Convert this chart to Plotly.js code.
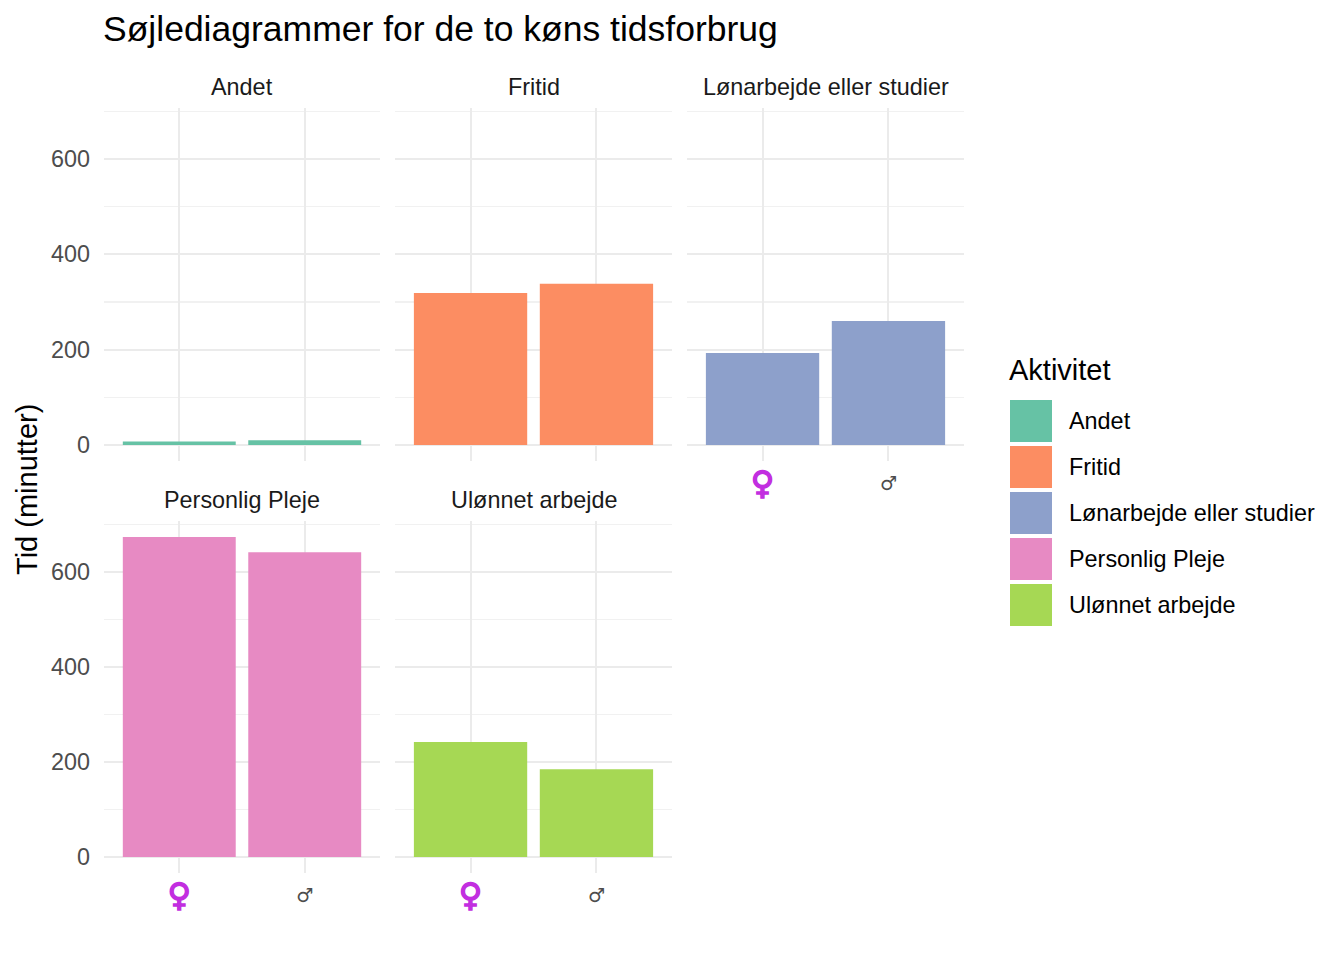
<!DOCTYPE html>
<html>
<head>
<meta charset="utf-8">
<script src="https://cdn.plot.ly/plotly-3.0.1.min.js"></script>
<style>html,body{margin:0;padding:0;background:#fff}#chart{width:1344px;height:960px}</style>
</head>
<body>
<div id="chart"></div>
<script>
// ---- data ----
const activities = ["Andet", "Fritid", "Lønarbejde eller studier", "Personlig Pleje", "Ulønnet arbejde"];
const genders = ["♀", "♂"];
const femaleMinutes = [7, 319, 193, 674, 242];
const maleMinutes = [10, 338, 260, 642, 185];
const colors = ["#66C2A5", "#FC8D62", "#8DA0CB", "#E78AC3", "#A6D854"];
const yTicks = [0, 200, 400, 600];
const chartTitle = "Søjlediagrammer for de to køns tidsforbrug";
const yTitle = "Tid (minutter)";
const legendTitle = "Aktivitet";

// ---- layout geometry (pixels) ----
const W = 1344, H = 960;
const cols = [[104, 380], [395, 672], [687, 964]];
const rows = [[107.6, 461], [521, 873]];
const px = v => v / W;
const py = v => 1 - v / H;
const FONT = "Liberation Sans, Arial, sans-serif";
const SMALL = 23.4;

const tickText = [
  '<span style="color:#c22ee0;font-size:32px;font-family:DejaVu Sans;font-weight:bold;stroke:#c22ee0;stroke-width:1.5px;baseline-shift:-4px">♀</span>',
  '<span style="color:#4d4d4d;font-size:19px;font-family:DejaVu Sans">♂</span>'
];

const traces = [];
const layout = {
  width: W, height: H,
  margin: {l: 0, r: 0, t: 0, b: 0},
  paper_bgcolor: "#fff", plot_bgcolor: "#fff",
  font: {family: FONT, color: "#1a1a1a"},
  showlegend: false,
  bargap: 0.1,
  title: {text: chartTitle, x: px(103), xanchor: "left", xref: "paper",
          y: py(29), yanchor: "middle", yref: "paper",
          font: {family: FONT, size: 35.5, color: "#000"}},
  annotations: [], shapes: []
};

activities.forEach((act, i) => {
  const r = Math.floor(i / 3), c = i % 3;
  const n = i === 0 ? "" : String(i + 1);
  traces.push({
    type: "bar", x: genders, y: [femaleMinutes[i], maleMinutes[i]],
    xaxis: "x" + n, yaxis: "y" + n, width: 0.9,
    marker: {color: colors[i], line: {width: 0}}, name: act, hoverinfo: "x+y"
  });
  const showX = (r === 1) || (c === 2);
  const showY = (c === 0);
  layout["xaxis" + n] = {
    domain: [px(cols[c][0]), px(cols[c][1])], anchor: "y" + n,
    range: [-0.6, 1.6], type: "category",
    tickvals: genders, ticktext: tickText,
    showticklabels: showX, ticks: "", ticklabelstandoff: 6,
    showgrid: true, gridcolor: "#EBEBEB", gridwidth: 2,
    zeroline: false, showline: false, fixedrange: true,
    tickfont: {family: FONT, size: 22, color: "#4d4d4d"}
  };
  layout["yaxis" + n] = {
    domain: [py(rows[r][1]), py(rows[r][0])], anchor: "x" + n,
    range: [-33.7, 707.7],
    tickvals: yTicks, ticktext: yTicks.map(String),
    showticklabels: showY, ticks: "", ticklabelstandoff: 13,
    showgrid: true, gridcolor: "#EBEBEB", gridwidth: 2,
    minor: {dtick: 100, tick0: 0, showgrid: true, gridcolor: "#F1F1F1", gridwidth: 1.3},
    zeroline: false, showline: false, fixedrange: true,
    tickfont: {family: FONT, size: SMALL, color: "#4d4d4d"}
  };
  // strip label
  layout.annotations.push({
    text: act, xref: "paper", yref: "paper",
    x: px((cols[c][0] + cols[c][1]) / 2), y: py(rows[r][0] - 21),
    xanchor: "center", yanchor: "middle", showarrow: false,
    font: {family: FONT, size: SMALL, color: "#1a1a1a"}
  });
  // legend key + label
  const top = 400 + i * 46;
  layout.shapes.push({
    type: "rect", xref: "paper", yref: "paper",
    x0: px(1010), x1: px(1052), y0: py(top + 42), y1: py(top),
    fillcolor: colors[i], line: {width: 0}
  });
  layout.annotations.push({
    text: act, xref: "paper", yref: "paper",
    x: px(1067), y: py(top + 21), xanchor: "left", yanchor: "middle",
    showarrow: false, font: {family: FONT, size: SMALL, color: "#000"}
  });
});

layout.annotations.push({
  text: legendTitle, xref: "paper", yref: "paper",
  x: px(1007), y: py(370), xanchor: "left", yanchor: "middle",
  showarrow: false, font: {family: FONT, size: 29, color: "#000"}
});
layout.annotations.push({
  text: yTitle, xref: "paper", yref: "paper",
  x: px(27), y: py(490), xanchor: "center", yanchor: "middle",
  textangle: -90, showarrow: false, font: {family: FONT, size: 29, color: "#000"}
});

Plotly.newPlot("chart", traces, layout, {staticPlot: true, displayModeBar: false});
</script>
</body>
</html>
